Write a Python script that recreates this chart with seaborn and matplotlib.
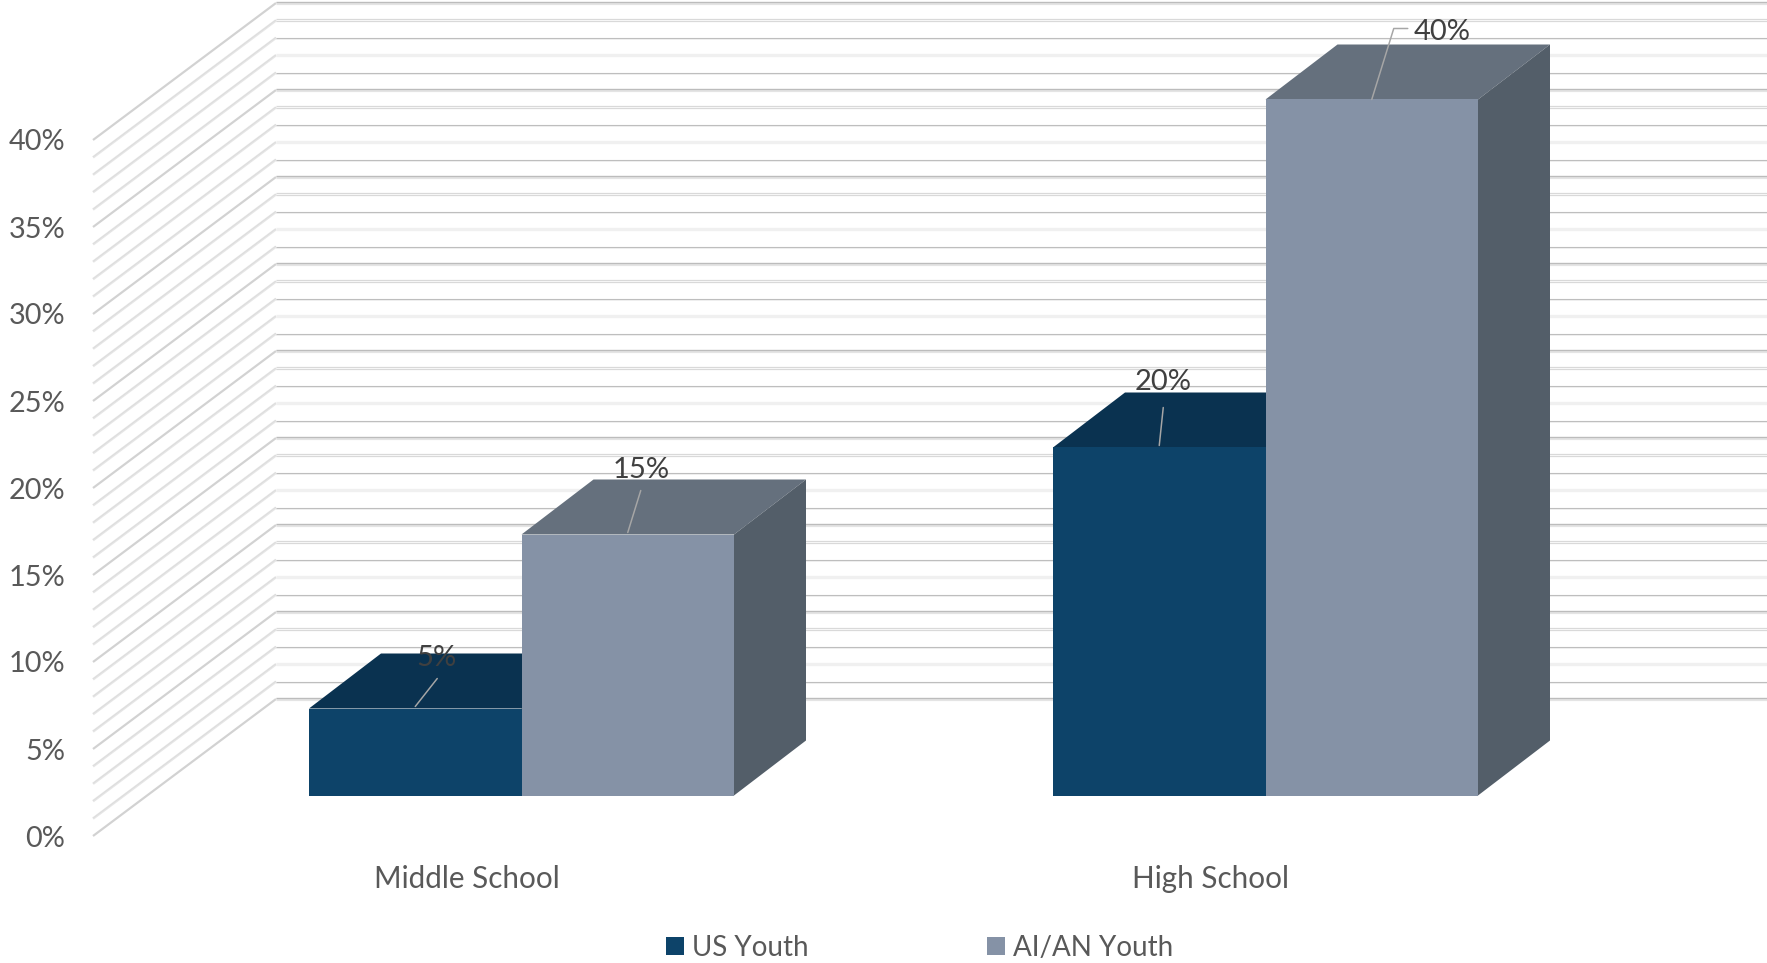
import matplotlib
matplotlib.use("Agg")
import numpy as np
import pandas as pd
import seaborn as sns
import matplotlib.pyplot as plt
from matplotlib.patches import Polygon
from matplotlib.lines import Line2D
from matplotlib.transforms import Affine2D

# ---- data ----
levels = ["Middle School", "High School"]
groups = ["US Youth", "AI/AN Youth"]
us_youth = [5, 20]
aian_youth = [15, 40]
y_ticks = [0, 5, 10, 15, 20, 25, 30, 35, 40]

# ---- styles ----
front_colors = ["#0D4369", "#8592A6"]
top_colors = ["#0A3250", "#65707D"]
side_colors = ["#08283F", "#535E69"]
W, H = 1767, 963
DPI = 100
PX = 72 / DPI
x0_px, cat_px = 521.5, 744.0      # category 0 position, px per category
y0_px, pct_px = 795.5, 17.4       # bar baseline, px per percent
bar_width = 425 / cat_px
depth_x, depth_y = 72 / cat_px, 55 / pct_px
wall_x0 = (93 - x0_px) / cat_px
wall_y0 = (y0_px - 836) / pct_px
wall_dx, wall_dy = 183 / cat_px, 137 / pct_px

sns.set_theme(style="white")
plt.rcParams["font.family"] = ["Lato", "DejaVu Sans"]

fig = plt.figure(figsize=(W / DPI, H / DPI), dpi=DPI, facecolor="white")
ax = fig.add_axes([0, 0, 1, 1])

df = pd.DataFrame({
    "level": levels * 2,
    "group": [groups[0]] * 2 + [groups[1]] * 2,
    "value": us_youth + aian_youth,
})
sns.barplot(data=df, x="level", y="value", hue="group", hue_order=groups,
            palette=front_colors, width=bar_width, gap=0, saturation=1,
            linewidth=0, errorbar=None, ax=ax)

ax.set_xlim(-x0_px / cat_px, (W - x0_px) / cat_px)
ax.set_ylim((y0_px - H) / pct_px, y0_px / pct_px)
ax.axis("off")

# ---- gridded walls ----
xl = ax.get_xlim()[1]
grid_levels = np.arange(0, y_ticks[-1] + 1)
for p in grid_levels:
    yf = wall_y0 + p
    yb = yf + wall_dy
    xs = [wall_x0, wall_x0 + wall_dx, xl]
    m = p % 5
    if m == 0:
        ax.plot(xs[:2], [yf, yb], color="#d2d2d2", lw=2.2 * PX, zorder=1, solid_capstyle="butt")
        ax.plot(xs[1:], [yb, yb], color="#e4e4e4", lw=3.2 * PX, zorder=1, solid_capstyle="butt")
        ax.plot(xs[1:], [yb + 1.0 / pct_px] * 2, color="#bcbcbc", lw=1.3 * PX, zorder=1.1, solid_capstyle="butt")
    else:
        ax.plot(xs[:2], [yf, yb], color="#e6e6e6", lw=2.6 * PX, zorder=1, solid_capstyle="butt")
        ax.plot(xs[:2], [yf + 0.4 / pct_px, yb + 0.4 / pct_px], color="#dcdcdc", lw=0.8 * PX, zorder=1.1, solid_capstyle="butt")
        if m == 2:
            ax.plot(xs[1:], [yb, yb], color="#f0f0f0", lw=3.4 * PX, zorder=1, solid_capstyle="butt")
        elif m == 4:
            ax.plot(xs[1:], [yb, yb], color="#d6d6d6", lw=3.2 * PX, zorder=1, solid_capstyle="butt")
            ax.plot(xs[1:], [yb, yb], color="#f6f6f6", lw=1.2 * PX, zorder=1.1, solid_capstyle="butt")
        else:
            ax.plot(xs[1:], [yb - 1.2 / pct_px] * 2, color="#f1f1f1", lw=2 * PX, zorder=1, solid_capstyle="butt")
            ax.plot(xs[1:], [yb, yb], color="#bebebe", lw=1.1 * PX, zorder=1.1, solid_capstyle="butt")

# ---- 3-D faces built from the seaborn bars ----
for i, cont in enumerate(ax.containers):
    z = 3 + i
    for bar in cont:
        bar.set_zorder(z + 0.2)
        l, w, h = bar.get_x(), bar.get_width(), bar.get_height()
        r = l + w
        ax.add_patch(Polygon([(l, h), (r, h), (r + depth_x, h + depth_y), (l + depth_x, h + depth_y)],
                             closed=True, facecolor=top_colors[i], edgecolor="none", zorder=z))
        ax.add_patch(Polygon([(r, 0), (r, h), (r + depth_x, h + depth_y), (r + depth_x, depth_y)],
                             closed=True, facecolor=side_colors[i], edgecolor="none", zorder=z))

# ---- data labels with leader lines (pixel offsets from each bar's top centre) ----
offsets = {
    (0, 0): ([(0, 2), (22, 30)], (21, 51)),
    (0, 1): ([(0, 2), (4, 40)], (4, 65)),
    (1, 0): ([(0, 2), (13, 44)], (13, 65)),
    (1, 1): ([(0, 0), (22, 71), (36, 71)], (70, 68)),
}
for i, cont in enumerate(ax.containers):
    for j, bar in enumerate(cont):
        cx = bar.get_x() + bar.get_width() / 2
        h = bar.get_height()
        line, lab = offsets[(i, j)]
        base = ax.transData.transform((cx, h))
        tr = Affine2D().translate(*base)
        ax.add_line(Line2D([q[0] for q in line], [q[1] for q in line], transform=tr,
                           color="#a6a6a6", lw=1.5 * PX, zorder=8))
        ax.annotate(f"{h:.0f}%", xy=(cx, h), xytext=(lab[0] * PX, lab[1] * PX),
                    textcoords="offset points", ha="center", va="center",
                    fontsize=21, color="#404040", zorder=9)

# ---- legend ----
handles, labels = ax.get_legend_handles_labels()
leg = ax.legend(handles, labels, ncol=2, frameon=False, loc="lower left",
                bbox_to_anchor=(658 / W, 1 - 969 / H), fontsize=20,
                labelcolor="#595959", handlelength=0.65, handleheight=0.65,
                handletextpad=0.29, columnspacing=6.4, borderaxespad=0, borderpad=0.3)

# ---- axis frame carrying the tick labels ----
frame = fig.add_axes([93 / W, (H - 836) / H, (W - 93) / W, 696 / H], facecolor="none", zorder=5)
frame.set_ylim(0, 40)
frame.set_yticks(y_ticks, [f"{t}%" for t in y_ticks])
cx0, cp = 467, 744
frame.set_xlim((93 - cx0) / cp, (W - cx0) / cp)
frame.set_xticks([0, 1], levels)
frame.tick_params(axis="both", length=0, labelcolor="#595959")
frame.tick_params(axis="y", labelsize=20.8, pad=27.5 * PX)
frame.tick_params(axis="x", labelsize=21.3, pad=29 * PX)
for s in frame.spines.values():
    s.set_visible(False)

fig.savefig("out.png", dpi=DPI, facecolor="white")
